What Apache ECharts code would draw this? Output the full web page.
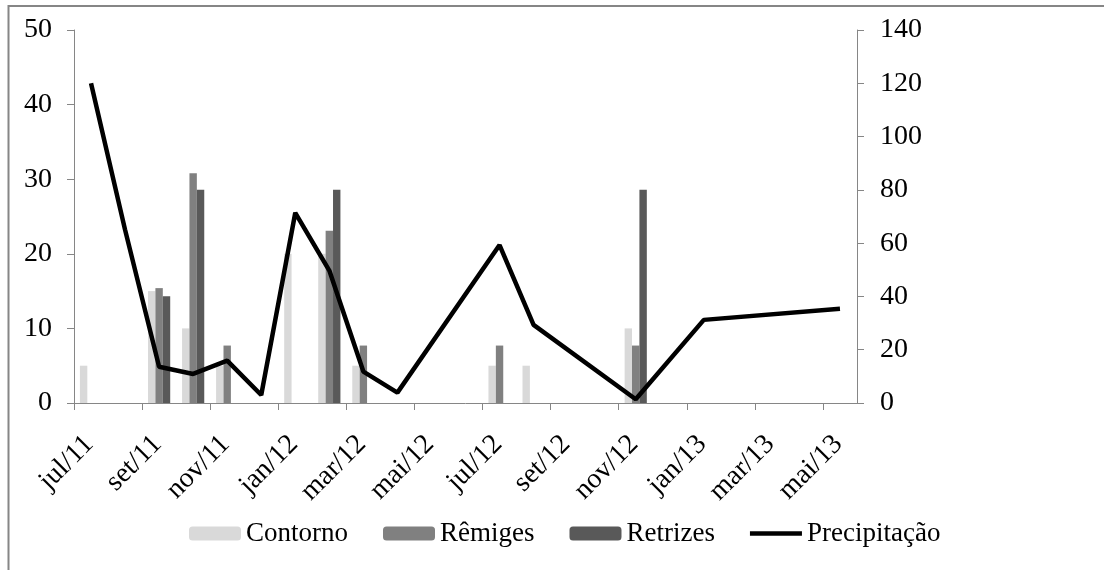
<!DOCTYPE html>
<html>
<head>
<meta charset="utf-8">
<script src="https://cdn.jsdelivr.net/npm/echarts@6/dist/echarts.min.js"></script>
<style>
  html, body { margin: 0; padding: 0; background: #fff; }
  #chart { width: 1104px; height: 570px; }
</style>
</head>
<body>
<div id="chart"></div>
<script>
// rótulos do eixo x (a cada 2 meses, a partir de jul/11)
const tickLabels = ['jul/11', 'set/11', 'nov/11', 'jan/12', 'mar/12', 'mai/12',
  'jul/12', 'set/12', 'nov/12', 'jan/13', 'mar/13', 'mai/13'];

// penas em muda (%)
const barMonths = ['2011-07', '2011-09', '2011-10', '2011-11', '2012-01',
  '2012-02', '2012-03', '2012-07', '2012-08', '2012-11'];
const contorno = [5, 15, 10, 5, 20, 20, 5, 5, 5, 10];
const remiges  = [0, 15.4, 30.8, 7.7, 0, 23.1, 7.7, 7.7, 0, 7.7];
const retrizes = [0, 14.3, 28.6, 0, 0, 28.6, 0, 0, 0, 28.6];

// precipitação (mm)
const rainMonths = ['2011-07', '2011-08', '2011-09', '2011-10', '2011-11',
  '2011-12', '2012-01', '2012-02', '2012-03', '2012-04', '2012-07',
  '2012-08', '2012-11', '2013-01', '2013-05'];
const precipitacao = [120, 65, 13.6, 10.9, 15.9, 3.0, 71.4, 49.7, 11.8, 3.9,
  59.3, 29.3, 1.4, 31.2, 35.4];

const fontFam = 'Liberation Serif';
const axisGrey = '#868686';

// meses desde jul/11, centrado no mês
function monthPos(s) {
  const p = s.split('-');
  return (Number(p[0]) - 2011) * 12 + (Number(p[1]) - 7) + 0.5;
}
function pairs(months, vals) {
  return months.map(function (m, i) { return [monthPos(m), vals[i]]; });
}

const tickValues = tickLabels.map(function (l, i) { return i * 2; });
// rótulos girados ficam um pouco à direita do traço (como no Excel)
const labelShift = 0.45;
const labelValues = tickValues.map(function (v) { return v + labelShift; });

function barSerie(name, vals, color) {
  return {
    name: name,
    type: 'bar',
    yAxisIndex: 0,
    barWidth: 7.4,
    barGap: '0%',
    itemStyle: { color: color },
    data: pairs(barMonths, vals)
  };
}

const chart = echarts.init(document.getElementById('chart'));
chart.setOption({
  animation: false,
  backgroundColor: '#fff',
  textStyle: { fontFamily: fontFam, color: '#000' },
  graphic: [{
    type: 'rect',
    shape: { x: 8.5, y: 6, width: 1300, height: 800 },
    style: { fill: 'none', stroke: axisGrey, lineWidth: 2 },
    silent: true
  }],
  grid: { left: 74, right: 247, top: 30, bottom: 167 },
  legend: {
    left: 184,
    top: 515,
    itemWidth: 52,
    itemHeight: 14,
    itemGap: 35,
    textStyle: { fontFamily: fontFam, fontSize: 27, color: '#000' },
    data: ['Contorno', 'Rêmiges', 'Retrizes',
      { name: 'Precipitação', icon: 'path://M0,0 H52 V4.5 H0 Z' }]
  },
  xAxis: {
    type: 'value',
    min: 0,
    max: 23,
    interval: 2,
    splitLine: { show: false },
    axisLine: { lineStyle: { color: axisGrey } },
    axisTick: { length: 7, lineStyle: { color: axisGrey }, customValues: tickValues },
    axisLabel: {
      customValues: labelValues,
      rotate: 45,
      margin: 37,
      fontFamily: fontFam,
      fontSize: 28,
      color: '#000',
      formatter: function (v) { return tickLabels[Math.round((v - labelShift) / 2)] || ''; }
    }
  },
  yAxis: [{
    type: 'value',
    min: 0,
    max: 50,
    interval: 10,
    splitLine: { show: false },
    axisLine: { show: true, lineStyle: { color: axisGrey } },
    axisTick: { show: true, length: 7, lineStyle: { color: axisGrey } },
    axisLabel: { margin: 22, fontFamily: fontFam, fontSize: 28, color: '#000' }
  }, {
    type: 'value',
    min: 0,
    max: 140,
    interval: 20,
    position: 'right',
    splitLine: { show: false },
    axisLine: { show: true, lineStyle: { color: axisGrey } },
    axisTick: { show: true, length: 7, lineStyle: { color: axisGrey } },
    axisLabel: { margin: 23, fontFamily: fontFam, fontSize: 28, color: '#000' }
  }],
  series: [
    barSerie('Contorno', contorno, '#d9d9d9'),
    barSerie('Rêmiges', remiges, '#808080'),
    barSerie('Retrizes', retrizes, '#595959'),
    {
      name: 'Precipitação',
      type: 'line',
      yAxisIndex: 1,
      symbol: 'none',
      itemStyle: { color: '#000' },
      lineStyle: { color: '#000', width: 4.5 },
      data: pairs(rainMonths, precipitacao),
      z: 5
    }
  ]
});
</script>
</body>
</html>
